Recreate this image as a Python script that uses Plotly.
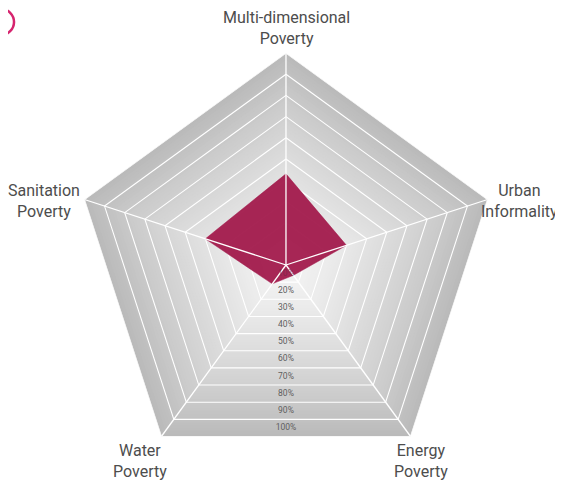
import numpy as np
import plotly.graph_objects as go

# ---- data ----
categories = ["Multi-dimensional Poverty", "Urban Informality", "Energy Poverty",
              "Water Poverty", "Sanitation Poverty"]
category_labels = ["Multi-dimensional<br>Poverty", "Urban<br>Informality", "Energy<br>Poverty",
                   "Water<br>Poverty", "Sanitation<br>Poverty"]
values = [43, 30, 6, 11, 40]
ring_values = [10, 20, 30, 40, 50, 60, 70, 80, 90, 100]
ring_labels = ["10%", "20%", "30%", "40%", "50%", "60%", "70%", "80%", "90%", "100%"]

PINK = "rgba(162,24,74,0.94)"
TEXT = "#4d4d4d"
FONT = "Roboto"

fig = go.Figure()
theta_closed = categories + [categories[0]]

# background: nested pentagons forming a light-centre gradient
n_levels = 60
for i in range(n_levels):
    t = 1 - i / n_levels
    g = int(round(243 - (243 - 186) * t ** 1.4))
    fig.add_trace(go.Scatterpolar(
        r=[100 * t] * 6, theta=theta_closed, mode="lines", fill="toself",
        fillcolor=f"rgb({g},{g},{g})", line=dict(width=0, color=f"rgb({g},{g},{g})"),
        hoverinfo="skip", showlegend=False, subplot="polar"))

# rings
for v in ring_values:
    fig.add_trace(go.Scatterpolar(
        r=[v] * 6, theta=theta_closed, mode="lines",
        line=dict(color="white", width=1.1), hoverinfo="skip",
        showlegend=False, subplot="polar"))

# data polygon
fig.add_trace(go.Scatterpolar(
    r=values + [values[0]], theta=theta_closed, mode="lines", fill="toself",
    fillcolor=PINK, line=dict(color="rgb(162,24,74)", width=0.5),
    showlegend=False, subplot="polar"))

# spokes
for c in categories:
    fig.add_trace(go.Scatterpolar(
        r=[0, 100], theta=[c, c], mode="lines",
        line=dict(color="white", width=1.3), hoverinfo="skip",
        showlegend=False, subplot="polar"))

# percentage labels, centred in each band below the centre
cos36 = np.cos(np.deg2rad(36))
label_r = [cos36 * (v - 5) for v in ring_values]
label_colors = ["rgba(110,40,70,0.75)"] + ["#5e5e5e"] * (len(ring_values) - 1)
fig.add_trace(go.Scatterpolar(
    r=label_r, theta=[180] * len(ring_values), mode="text", text=ring_labels,
    textfont=dict(family=FONT, size=8.5, color=label_colors),
    hoverinfo="skip", showlegend=False, subplot="polar2"))

# the page body has an 8px margin, so the layout is shifted up/left by 8px
dom_x = [0.1172, 0.8703]
dom_y = [0.0270, 0.9066]

fig.update_layout(
    width=563, height=482, template="none",
    margin=dict(l=0, r=0, t=0, b=0),
    paper_bgcolor="white", plot_bgcolor="white",
    polar=dict(
        domain=dict(x=dom_x, y=dom_y), bgcolor="rgba(0,0,0,0)", gridshape="linear",
        angularaxis=dict(rotation=90, direction="clockwise", type="category",
                         categoryorder="array", categoryarray=categories,
                         showticklabels=False, showgrid=False, showline=False, ticks=""),
        radialaxis=dict(range=[0, 100], visible=False),
    ),
    polar2=dict(
        domain=dict(x=dom_x, y=dom_y), bgcolor="rgba(0,0,0,0)",
        angularaxis=dict(rotation=90, direction="clockwise", visible=False),
        radialaxis=dict(range=[0, 100], visible=False),
    ),
    showlegend=False,
)

# category labels
label_pos = [(0.4938, 0.9129, "bottom"),
             (0.9094, 0.5996, "middle"),
             (0.7336, 0.0612, "middle"),
             (0.2353, 0.0612, "middle"),
             (0.0648, 0.5996, "middle")]
for txt, (x, y, ya) in zip(category_labels, label_pos):
    fig.add_annotation(x=x, y=y, xref="paper", yref="paper", text=txt,
                       showarrow=False, xanchor="center", yanchor=ya, align="center",
                       font=dict(family=FONT, size=16, color=TEXT))

# partial pink circle at the top-left corner
fig.add_shape(type="circle", xref="paper", yref="paper",
              x0=-0.036, x1=0.0107, y0=0.944, y1=0.998,
              line=dict(color="#d6246e", width=2.5))

fig.write_html("out.html")
